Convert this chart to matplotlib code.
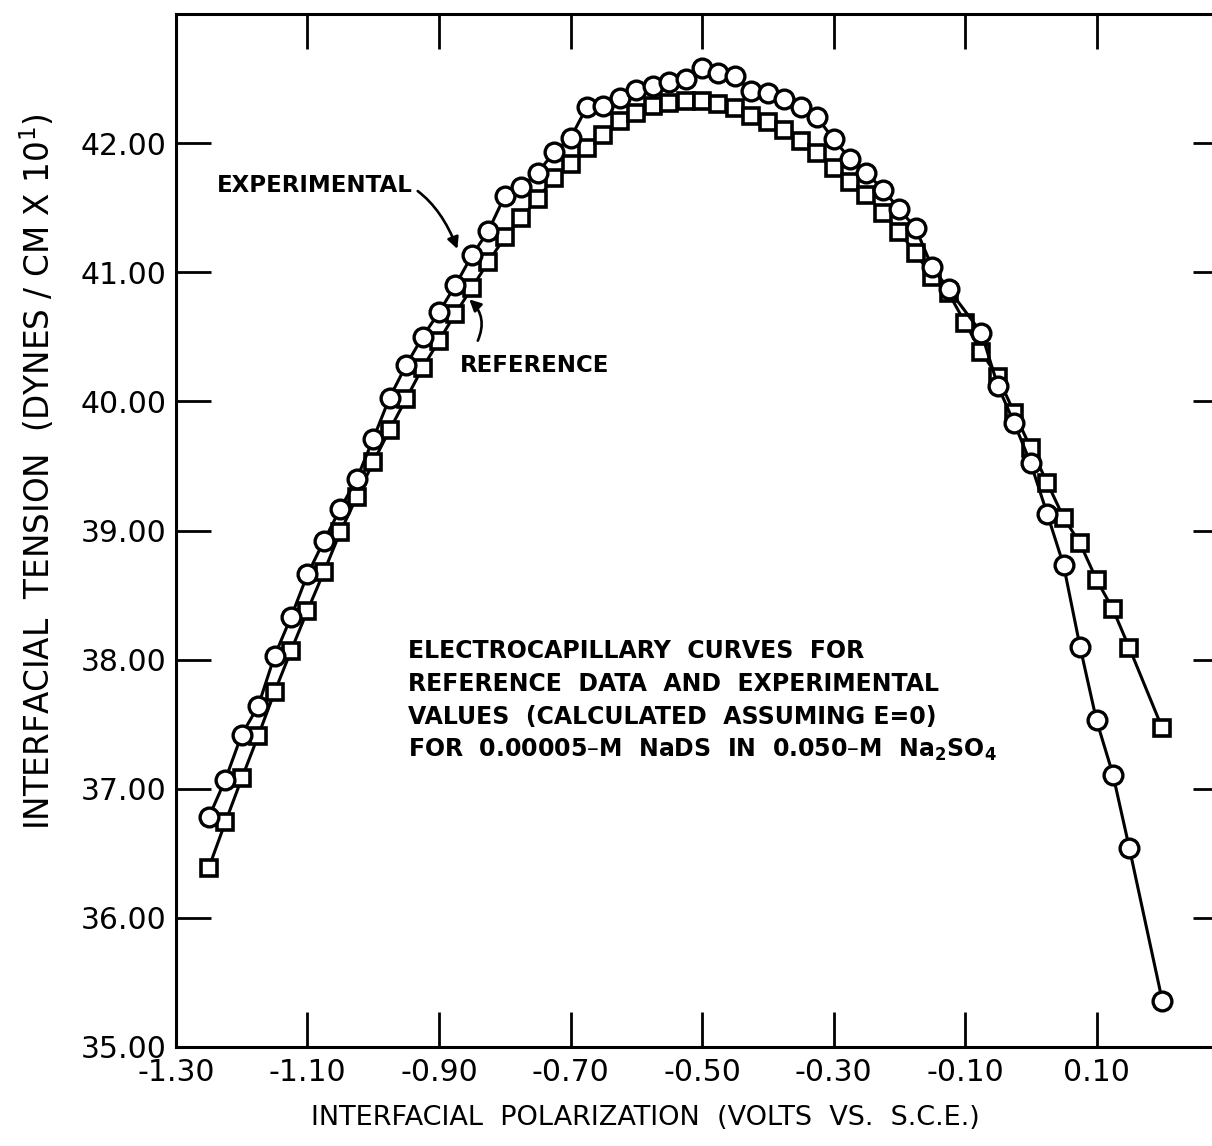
import matplotlib
matplotlib.use("Agg")
import matplotlib.pyplot as plt

# Interfacial polarization (V vs. S.C.E.)
polarization_exp = [
    -1.250, -1.225, -1.200, -1.175, -1.150, -1.125, -1.100, -1.075, -1.050, -1.025,
    -1.000, -0.975, -0.950, -0.925, -0.900, -0.875, -0.850, -0.825, -0.800, -0.775,
    -0.750, -0.725, -0.700, -0.675, -0.650, -0.625, -0.600, -0.575, -0.550, -0.525,
    -0.500, -0.475, -0.450, -0.425, -0.400, -0.375, -0.350, -0.325, -0.300, -0.275,
    -0.250, -0.225, -0.200, -0.175, -0.150, -0.125, -0.075, -0.050, -0.025, 0.000,
    0.025, 0.050, 0.075, 0.100, 0.125, 0.150, 0.200,
]
# Experimental interfacial tension (dynes/cm x 10^1), calculated assuming E = 0
tension_exp = [
    36.78, 37.07, 37.42, 37.64, 38.03, 38.33, 38.66, 38.92, 39.17, 39.40,
    39.71, 40.03, 40.28, 40.50, 40.69, 40.90, 41.13, 41.32, 41.59, 41.66,
    41.77, 41.93, 42.04, 42.28, 42.29, 42.35, 42.41, 42.44, 42.47, 42.50,
    42.58, 42.54, 42.52, 42.40, 42.39, 42.34, 42.28, 42.20, 42.03, 41.88,
    41.77, 41.64, 41.49, 41.34, 41.04, 40.87, 40.53, 40.12, 39.83, 39.52,
    39.13, 38.73, 38.10, 37.53, 37.11, 36.54, 35.36,
]

polarization_ref = [
    -1.250, -1.225, -1.200, -1.175, -1.150, -1.125, -1.100, -1.075, -1.050, -1.025,
    -1.000, -0.975, -0.950, -0.925, -0.900, -0.875, -0.850, -0.825, -0.800, -0.775,
    -0.750, -0.725, -0.700, -0.675, -0.650, -0.625, -0.600, -0.575, -0.550, -0.525,
    -0.500, -0.475, -0.450, -0.425, -0.400, -0.375, -0.350, -0.325, -0.300, -0.275,
    -0.250, -0.225, -0.200, -0.175, -0.150, -0.125, -0.100, -0.075, -0.050, -0.025,
    0.000, 0.025, 0.050, 0.075, 0.100, 0.125, 0.150, 0.200,
]
# Reference interfacial tension data
tension_ref = [
    36.39, 36.74, 37.08, 37.41, 37.75, 38.07, 38.38, 38.68, 38.99, 39.26,
    39.53, 39.78, 40.02, 40.26, 40.47, 40.68, 40.88, 41.08, 41.27, 41.42,
    41.57, 41.73, 41.84, 41.96, 42.06, 42.17, 42.23, 42.29, 42.31, 42.33,
    42.33, 42.30, 42.27, 42.21, 42.16, 42.10, 42.02, 41.92, 41.81, 41.70,
    41.60, 41.46, 41.31, 41.15, 40.96, 40.84, 40.61, 40.38, 40.19, 39.91,
    39.64, 39.37, 39.10, 38.90, 38.62, 38.39, 38.09, 37.47,
]

x_ticks = [-1.30, -1.10, -0.90, -0.70, -0.50, -0.30, -0.10, 0.10]
x_tick_labels = ["-1.30", "-1.10", "-0.90", "-0.70", "-0.50", "-0.30", "-0.10", "0.10"]
y_ticks = [35, 36, 37, 38, 39, 40, 41, 42]
y_tick_labels = ["35.00", "36.00", "37.00", "38.00", "39.00", "40.00", "41.00", "42.00"]

W, H = 1212, 1146
fig = plt.figure(figsize=(W / 100, H / 100), dpi=100)
fig.patch.set_facecolor("white")

# axes frame: the right spine runs just past the right edge of the figure
left_px, right_px, top_px, bottom_px = 176, 1228, 14, 1047
ax = fig.add_axes([left_px / W, 1 - bottom_px / H,
                   (right_px - left_px) / W, (bottom_px - top_px) / H])
ax.set_xlim(-1.30, 0.30)
ax.set_ylim(35.0, 43.0)

ax.plot(polarization_ref, tension_ref, color="black", lw=2.2,
        marker="s", ms=11, mfc="white", mec="black", mew=2.6, zorder=3)
ax.plot(polarization_exp, tension_exp, color="black", lw=2.2,
        marker="o", ms=13.5, mfc="white", mec="black", mew=2.4, zorder=4)

for s in ax.spines.values():
    s.set_linewidth(2.2)

ax.set_xticks(x_ticks)
ax.set_xticklabels(x_tick_labels)
ax.set_yticks(y_ticks)
ax.set_yticklabels(y_tick_labels)
ax.tick_params(axis="both", which="major", direction="in", length=25, width=2.0,
               top=True, right=True, labelsize=21.5, pad=7)
ax.tick_params(axis="x", pad=8)
for lab in ax.get_xticklabels() + ax.get_yticklabels():
    lab.set_fontweight("medium")

fig.text(38 / W, 1 - 472 / H, "INTERFACIAL  TENSION  (DYNES / CM X 10$^{\\mathregular{1}}$)",
         rotation=90, ha="center", va="center", fontsize=23.5)
fig.text(645 / W, 1 - 1118 / H, "INTERFACIAL  POLARIZATION  (VOLTS  VS.  S.C.E.)",
         ha="center", va="center", fontsize=19.5)

note_lines = [
    "ELECTROCAPILLARY  CURVES  FOR",
    "REFERENCE  DATA  AND  EXPERIMENTAL",
    "VALUES  (CALCULATED  ASSUMING E=0)",
    "FOR  0.00005\u2013M  NaDS  IN  0.050\u2013M  Na$_{\\mathregular{2}}$SO$_{\\mathregular{4}}$",
]
for i, line in enumerate(note_lines):
    fig.text(408 / W, 1 - (651 + 33 * i) / H, line, ha="left", va="center",
             fontsize=17, fontweight="bold")

ax.annotate("EXPERIMENTAL", xy=(-0.872, 41.18), xytext=(-0.940, 41.67),
            fontsize=16.5, fontweight="bold", ha="right", va="center",
            arrowprops=dict(arrowstyle="-|>", color="black", lw=1.9,
                            mutation_scale=17, shrinkA=2, shrinkB=0,
                            connectionstyle="arc3,rad=-0.5"))
ax.annotate("", xy=(-0.854, 40.79), xytext=(-0.841, 40.47),
            arrowprops=dict(arrowstyle="-|>", color="black", lw=1.9,
                            mutation_scale=17, shrinkA=0, shrinkB=0,
                            connectionstyle="arc3,rad=0.35"))
ax.text(-0.869, 40.28, "REFERENCE", fontsize=16.5, fontweight="bold",
        ha="left", va="center")

fig.savefig("out.png", dpi=100, facecolor="white")
